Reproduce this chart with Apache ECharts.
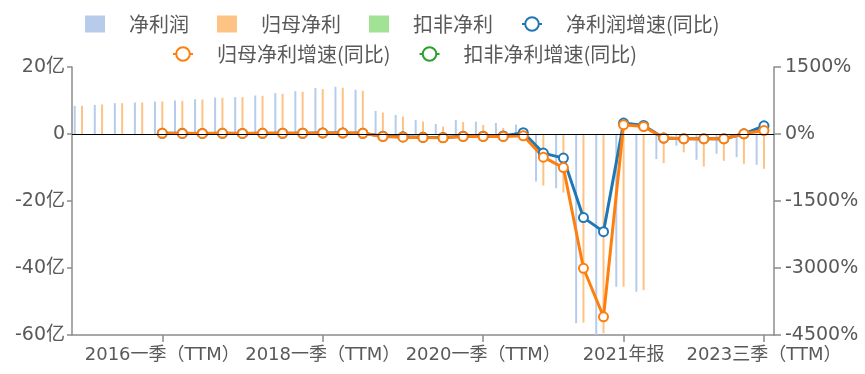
<!DOCTYPE html>
<html>
<head>
<meta charset="utf-8">
<script src="https://cdn.jsdelivr.net/npm/echarts@6/dist/echarts.min.js"></script>
<style>
html,body{margin:0;padding:0;background:#fff;}
#chart{width:865px;height:374px;}
</style>
</head>
<body>
<div id="chart"></div>
<script>
// ---- data ----
const categories = [
  "2015一季（TTM）","2015中报（TTM）","2015三季（TTM）","2015年报",
  "2016一季（TTM）","2016中报（TTM）","2016三季（TTM）","2016年报",
  "2017一季（TTM）","2017中报（TTM）","2017三季（TTM）","2017年报",
  "2018一季（TTM）","2018中报（TTM）","2018三季（TTM）","2018年报",
  "2019一季（TTM）","2019中报（TTM）","2019三季（TTM）","2019年报",
  "2020一季（TTM）","2020中报（TTM）","2020三季（TTM）","2020年报",
  "2021一季（TTM）","2021中报（TTM）","2021三季（TTM）","2021年报",
  "2022一季（TTM）","2022中报（TTM）","2022三季（TTM）","2022年报",
  "2023一季（TTM）","2023中报（TTM）","2023三季（TTM）"
];
const shownLabelIndex = [4, 12, 20, 27, 34];

// 亿
const netProfit = [8.4,8.7,9.2,9.4,9.7,10.0,10.4,10.9,11.0,11.5,12.2,12.8,13.7,14.1,13.2,6.9,5.7,4.2,3.0,4.2,3.7,3.3,2.8,-14.2,-16.2,-56.5,-60.0,-45.6,-47.1,-7.5,-3.5,-7.7,-5.9,-6.9,-9.2];
const parentProfit = [8.4,8.8,9.2,9.4,9.7,9.9,10.3,10.8,11.0,11.4,12.0,12.6,13.4,13.8,12.9,6.4,5.2,3.7,2.2,3.6,2.7,1.8,1.5,-15.4,-17.5,-56.3,-59.5,-45.6,-46.6,-8.7,-5.5,-9.7,-8.0,-8.9,-10.4];
const deductProfit = [];

// %
const netGrowth = [null,null,null,null,15,14,13,16,13,15,17,17,24,23,16,-50,-64,-74,-80,-50,-48,-45,30,-428,-540,-1872,-2186,244,190,-90,-105,-105,-105,5,184];
const parentGrowth = [null,null,null,null,15,13,12,15,13,15,16,17,22,21,17,-56,-70,-78,-85,-56,-56,-56,-40,-518,-751,-3006,-4092,206,168,-92,-108,-108,-108,4,78];
const deductGrowth = [];

const leftTicks = {min: -60, max: 20, interval: 20};
const rightTicks = {min: -4500, max: 1500, interval: 1500};

// ---- chart ----
const FONT = "'DejaVu Sans','Noto Sans CJK SC',sans-serif";
const CJK = "'Noto Sans CJK SC','DejaVu Sans',sans-serif";
const TXT = '#595959';
const AX = '#8c8c8c';

const chart = echarts.init(document.getElementById('chart'), null, {renderer: 'canvas'});

const legendText = {color: TXT, fontSize: 20, fontFamily: CJK, padding: [0, 0, 0, 19]};

const barCommon = {type: 'bar', yAxisIndex: 0, barWidth: 2, barGap: '265%'};
const lineCommon = {
  type: 'line', yAxisIndex: 1, symbol: 'emptyCircle', symbolSize: 9,
  lineStyle: {width: 3}, connectNulls: false
};

chart.setOption({
  animation: false,
  backgroundColor: '#fff',
  grid: {left: 72, right: 91, top: 67, bottom: 39, containLabel: false},
  legend: [
    {
      left: 80, top: 9, itemWidth: 20, itemHeight: 17, itemGap: 28,
      textStyle: legendText,
      data: [
        {name: '净利润', icon: 'rect'},
        {name: '归母净利', icon: 'rect'},
        {name: '扣非净利', icon: 'rect'},
        {name: '净利润增速(同比)'}
      ]
    },
    {
      left: 167, top: 39, itemWidth: 20, itemHeight: 17, itemGap: 28,
      textStyle: legendText,
      data: [
        {name: '归母净利增速(同比)'},
        {name: '扣非净利增速(同比)'}
      ]
    }
  ],
  xAxis: {
    type: 'category',
    data: categories,
    boundaryGap: true,
    axisLine: {onZero: false, lineStyle: {color: AX, width: 1.5}},
    axisTick: {
      show: true, alignWithLabel: true, length: 7,
      interval: (i) => shownLabelIndex.includes(i),
      lineStyle: {color: AX, width: 1.5}
    },
    axisLabel: {
      interval: (i) => shownLabelIndex.includes(i),
      color: TXT, fontSize: 18, fontFamily: FONT, margin: 11, hideOverlap: false
    },
    splitLine: {show: false}
  },
  yAxis: [
    {
      type: 'value', position: 'left',
      min: leftTicks.min, max: leftTicks.max, interval: leftTicks.interval,
      axisLine: {show: true, lineStyle: {color: AX, width: 1.5}},
      axisTick: {show: true, length: 5, lineStyle: {color: AX, width: 1.5}},
      axisLabel: {
        color: TXT, fontSize: 19, fontFamily: FONT, margin: 7,
        formatter: (v) => v === 0 ? '0' : v + '亿'
      },
      splitLine: {show: false}
    },
    {
      type: 'value', position: 'right',
      min: rightTicks.min, max: rightTicks.max, interval: rightTicks.interval,
      axisLine: {show: true, lineStyle: {color: AX, width: 1.5}},
      axisTick: {show: true, length: 7, lineStyle: {color: AX, width: 1.5}},
      axisLabel: {
        color: TXT, fontSize: 19, fontFamily: FONT, margin: 11,
        formatter: (v) => v + '%'
      },
      splitLine: {show: false}
    }
  ],
  series: [
    Object.assign({}, barCommon, {
      name: '净利润', data: netProfit,
      itemStyle: {color: '#aec7e8', opacity: 0.9},
      markLine: {
        silent: true, symbol: 'none', label: {show: false},
        lineStyle: {color: '#000', width: 1, type: 'solid'},
        data: [{yAxis: 0}]
      }
    }),
    Object.assign({}, barCommon, {
      name: '归母净利', data: parentProfit,
      itemStyle: {color: '#ffbb78', opacity: 0.9}
    }),
    Object.assign({}, barCommon, {
      name: '扣非净利', data: deductProfit,
      itemStyle: {color: '#98df8a', opacity: 0.9}
    }),
    Object.assign({}, lineCommon, {
      name: '净利润增速(同比)', data: netGrowth,
      itemStyle: {color: '#1f77b4', borderWidth: 3},
      lineStyle: {width: 3, color: '#1f77b4'}
    }),
    Object.assign({}, lineCommon, {
      name: '归母净利增速(同比)', data: parentGrowth,
      itemStyle: {color: '#ff7f0e', borderWidth: 3},
      lineStyle: {width: 3, color: '#ff7f0e'}
    }),
    Object.assign({}, lineCommon, {
      name: '扣非净利增速(同比)', data: deductGrowth,
      itemStyle: {color: '#2ca02c', borderWidth: 3},
      lineStyle: {width: 3, color: '#2ca02c'}
    })
  ]
});
</script>
</body>
</html>
